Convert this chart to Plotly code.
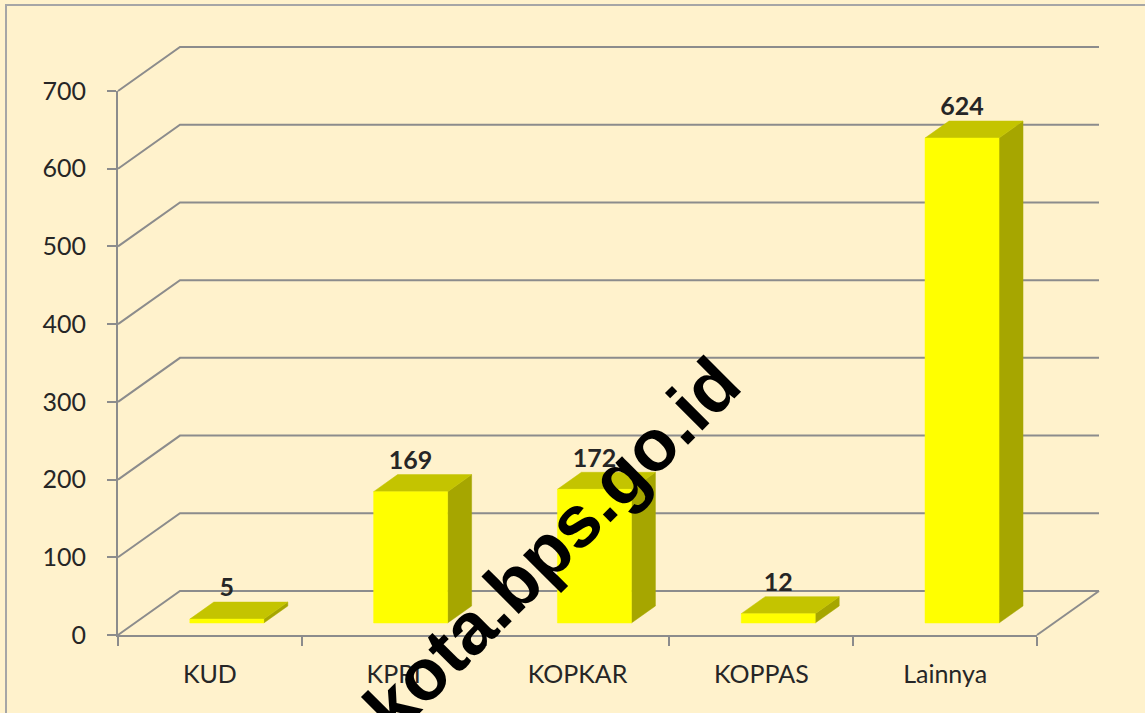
import plotly.graph_objects as go

# ---------------- data ----------------
categories = ["KUD", "KPRI", "KOPKAR", "KOPPAS", "Lainnya"]
values = [5, 169, 172, 12, 624]
y_ticks = [0, 100, 200, 300, 400, 500, 600, 700]
watermark = "bontangkota.bps.go.id"

# ---------------- layout constants (pixels) ----------------
W, H = 1145, 713
AX_L, AX_R = 118, 1037      # front floor edge (x axis)
AX_B, AX_T = 635, 91        # front value axis 0 .. 700
DEPTH_PX_X, DEPTH_PX_Y = 62, 44   # 3-D depth offset of the back wall
BAR_W_PX = 74
F1, F2 = 0.273, 0.66        # bar depth position (fraction of full depth)
LABEL_GAP_PX = 12

n = len(categories)
ymax = y_ticks[-1]
Wc = (AX_R - AX_L) / n              # px per category
Hv = (AX_B - AX_T) / ymax           # px per value unit
DX = DEPTH_PX_X / Wc
DY = DEPTH_PX_Y / Hv
BW = BAR_W_PX / 2 / Wc

# main (drawing) axes ranges so that data coords coincide with the front axes
x_lo = -0.5 - AX_L / Wc
x_hi = -0.5 + (W - AX_L) / Wc
y_lo = -(H - AX_B) / Hv
y_hi = AX_B / Hv

FRONT = "#FFFF00"
TOP = "#C4C400"
SIDE = "#A6A600"
GRID = "#8C8C8C"
TXT = "#262626"
FONT = "Lato"

fig = go.Figure()

# ---------------- 3-D walls / gridlines ----------------
gx, gy = [], []
for t in y_ticks:
    gx += [-0.5, -0.5 + DX, n - 0.5 + DX, None]
    gy += [t, t + DY, t + DY, None]
# right floor edge
gx += [n - 0.5 + DX, n - 0.5, None]
gy += [DY, 0, None]
fig.add_trace(go.Scatter(x=gx, y=gy, mode="lines",
                         line=dict(color=GRID, width=2),
                         hoverinfo="skip", showlegend=False))

# ---------------- bars ----------------
d = F2 - F1
fx, fy, tx, ty, sx, sy = [], [], [], [], [], []
lx, ly = [], []
for i, v in enumerate(values):
    cx = i + F1 * DX
    b0 = F1 * DY
    fx += [cx - BW, cx + BW, cx + BW, cx - BW, cx - BW, None]
    fy += [b0, b0, b0 + v, b0 + v, b0, None]
    tx += [cx - BW, cx + BW, cx + BW + d * DX, cx - BW + d * DX, cx - BW, None]
    ty += [b0 + v, b0 + v, b0 + v + d * DY, b0 + v + d * DY, b0 + v, None]
    sx += [cx + BW, cx + BW + d * DX, cx + BW + d * DX, cx + BW, cx + BW, None]
    sy += [b0, b0 + d * DY, b0 + v + d * DY, b0 + v, b0, None]
    lx.append(cx)
    ly.append(b0 + v + d * DY + LABEL_GAP_PX / Hv)

for xs, ys, col in ((sx, sy, SIDE), (tx, ty, TOP), (fx, fy, FRONT)):
    fig.add_trace(go.Scatter(x=xs, y=ys, mode="lines", fill="toself",
                             fillcolor=col, line=dict(color=col, width=0.5),
                             hoverinfo="skip", showlegend=False))

fig.add_trace(go.Scatter(x=lx, y=ly, mode="text",
                         text=[str(v) for v in values],
                         textposition="middle center",
                         textfont=dict(family=FONT, size=25, color=TXT,
                                       weight="bold"),
                         hoverinfo="skip", showlegend=False))

# ---------------- front axes (category / value) ----------------
fig.add_trace(go.Scatter(x=categories, y=values, mode="markers",
                         marker=dict(opacity=0), xaxis="x2", yaxis="y2",
                         hoverinfo="skip", showlegend=False))

fig.update_layout(
    width=W, height=H,
    margin=dict(l=0, r=0, t=0, b=0, pad=0, autoexpand=False),
    paper_bgcolor="#FFF2CC",
    plot_bgcolor="rgba(0,0,0,0)",
    showlegend=False,
    xaxis=dict(domain=[0, 1], range=[x_lo, x_hi], visible=False,
               fixedrange=True, automargin=False),
    yaxis=dict(domain=[0, 1], range=[y_lo, y_hi], visible=False,
               fixedrange=True, automargin=False),
    xaxis2=dict(domain=[AX_L / W, AX_R / W], anchor="y2", type="category",
                categoryorder="array", categoryarray=categories,
                range=[-0.5, n - 0.5], tickson="boundaries",
                ticks="outside", ticklen=9, tickcolor=GRID, tickwidth=1.5,
                showline=True, linecolor=GRID, linewidth=2,
                showgrid=False, zeroline=False, ticklabelstandoff=16,
                tickfont=dict(family=FONT, size=25, color=TXT),
                fixedrange=True, automargin=False),
    yaxis2=dict(domain=[(H - AX_B) / H, (H - AX_T) / H], anchor="x2",
                range=[0, ymax], tickvals=y_ticks,
                ticks="outside", ticklen=9, tickcolor=GRID, tickwidth=1.5,
                showline=True, linecolor=GRID, linewidth=2,
                showgrid=False, zeroline=False, ticklabelstandoff=16,
                tickfont=dict(family=FONT, size=25, color=TXT),
                fixedrange=True, automargin=False),
    shapes=[dict(type="rect", xref="paper", yref="paper",
                 x0=6 / W, x1=1.05, y0=1 - 5 / H, y1=-0.05,
                 line=dict(color="#A6A6A6", width=2))],
    annotations=[dict(text=watermark, xref="paper", yref="paper",
                      x=450 / W, y=1 - 646 / H, xanchor="center",
                      yanchor="middle", showarrow=False, textangle=-45,
                      font=dict(family="Liberation Sans", size=73,
                                color="black", weight="bold"))],
)

fig.write_html("out.html", config={"displayModeBar": False},
               post_script="document.body.style.margin='0px';")
